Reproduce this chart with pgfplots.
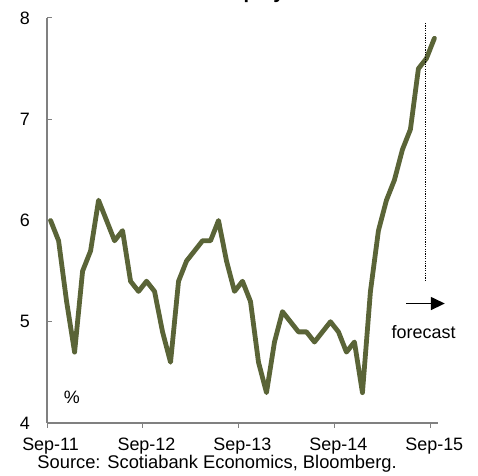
\documentclass[border=0pt]{standalone}
\usepackage{pgfplots}
\pgfplotsset{compat=1.18}
\usepackage{fontspec}
\setmainfont{Liberation Sans}
\usetikzlibrary{arrows.meta}
\definecolor{olive}{RGB}{90,100,55}
\definecolor{axgray}{RGB}{128,128,128}
\begin{document}
\begin{tikzpicture}
\begin{axis}[
  name=ax,
  scale only axis,
  width=391bp, height=405bp,
  xmin=-0.45, xmax=48.45,
  ymin=4, ymax=8,
  axis lines=left,
  axis line style={-, draw=axgray, line width=1.2bp},
  clip=false,
  xtick={-0.45,11.55,23.55,35.55,47.55},
  xticklabels={Sep-11,Sep-12,Sep-13,Sep-14,Sep-15},
  ytick={4,5,6,7,8},
  tick style={draw=axgray, line width=1bp},
  major tick length=4.5bp,
  xtick align=outside,
  ytick align=inside,
  /pgf/number format/assume math mode=true,
  tick label style={font=\fontsize{18}{21}\selectfont, inner sep=0pt},
  xticklabel style={anchor=base, yshift=-23bp, xshift=3.5bp},
  yticklabel style={anchor=east, xshift=-17bp},
]
\addplot[olive, line width=4.8bp, line join=round, line cap=round] coordinates {
(0,6.0)(1,5.8)(2,5.2)(3,4.7)(4,5.5)(5,5.7)(6,6.2)(7,6.0)(8,5.8)(9,5.9)
(10,5.4)(11,5.3)(12,5.4)(13,5.3)(14,4.9)(15,4.6)(16,5.4)(17,5.6)(18,5.7)(19,5.8)
(20,5.8)(21,6.0)(22,5.6)(23,5.3)(24,5.4)(25,5.2)(26,4.6)(27,4.3)(28,4.8)(29,5.1)
(30,5.0)(31,4.9)(32,4.9)(33,4.8)(34,4.9)(35,5.0)(36,4.9)(37,4.7)(38,4.8)(39,4.3)
(40,5.3)(41,5.9)(42,6.2)(43,6.4)(44,6.7)(45,6.9)(46,7.5)(47,7.6)(48,7.8)
};
\draw[black, line width=1.3bp, dash pattern=on 1.2bp off 1.2bp] (axis cs:46.9,7.95) -- (axis cs:46.9,5.4);
\draw[black, line width=1.6bp, -{Triangle[length=14bp,width=13bp]}] (axis cs:44.45,5.18) -- (axis cs:49.3,5.18);
\node[anchor=base, inner sep=0pt, font=\fontsize{18}{21}\selectfont] at (axis cs:46.65,4.83) {forecast};
\node[anchor=center, inner sep=0pt, font=\fontsize{18}{21}\selectfont] at (axis cs:2.65,4.25) {\%};
\node[anchor=base, inner sep=0pt, font=\fontsize{18.4}{21}\selectfont] at ([yshift=-45bp]rel axis cs:0.435,0) {Source: Scotiabank Economics, Bloomberg.};
\node[anchor=base west, inner sep=0pt, font=\fontsize{20}{24}\selectfont\bfseries] at ([yshift=19.5bp]rel axis cs:0.134,1) {Brazilian Unemployment Rate};
\end{axis}
\pgfresetboundingbox
\useasboundingbox ([xshift=-47bp,yshift=-53bp]ax.south west) rectangle ([xshift=40bp,yshift=18bp]ax.north east);
\end{tikzpicture}
\end{document}
